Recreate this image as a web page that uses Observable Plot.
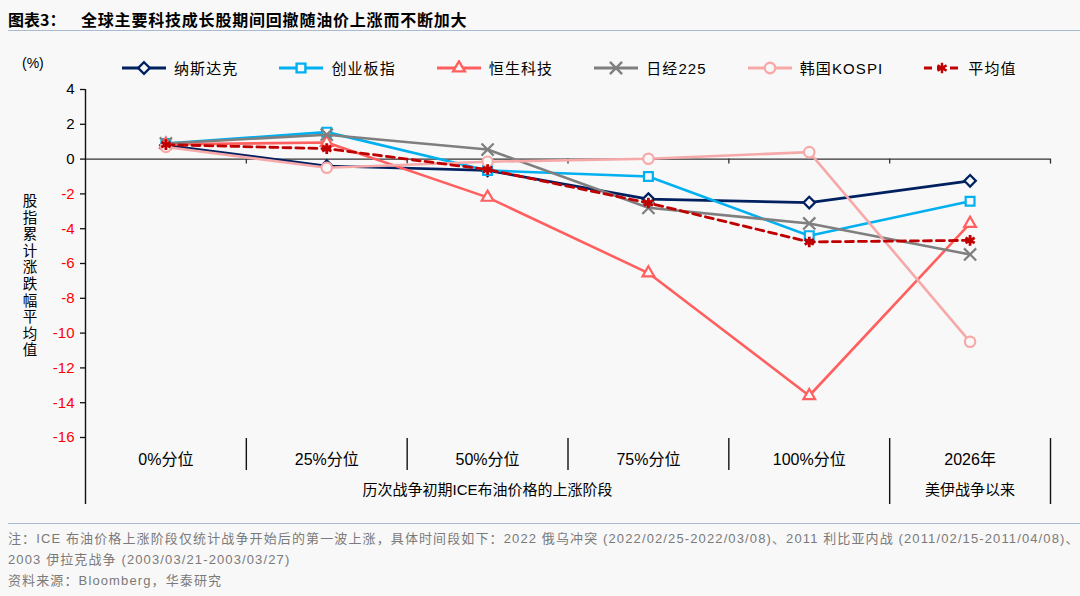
<!DOCTYPE html>
<html><head><meta charset="utf-8">
<script src="https://cdn.jsdelivr.net/npm/d3@7"></script>
<script src="https://cdn.jsdelivr.net/npm/@observablehq/plot@0.6"></script>
<style>
body{margin:0;background:#f8f8f8;}
#wrap{position:relative;width:1080px;height:596px;background:#f8f8f8;font-family:"Liberation Sans","Noto Sans CJK SC",sans-serif;overflow:hidden;color:#000}
#title{position:absolute;left:8px;top:8px;font-family:"Noto Sans CJK SC",sans-serif;font-weight:bold;font-size:16px;line-height:22px;white-space:nowrap}
#title .main{position:absolute;left:73px;letter-spacing:0.8px}
.rule{position:absolute;left:8px;width:1072px;height:0;border-top:1.5px solid #a8bbd2}
#unit{position:absolute;left:22px;top:55px;font-size:14px}
#legend{position:absolute;left:122px;top:57px;display:flex;gap:41px;white-space:nowrap}
#legend .item{display:flex;align-items:center;gap:8px;font-size:15px;letter-spacing:1.1px;font-family:"Liberation Sans","Noto Sans CJK SC",sans-serif}
#ylabel{position:absolute;left:21px;top:192px;width:18px;font-family:"Noto Sans CJK SC",sans-serif;font-size:14.5px;line-height:16.6px;text-align:center;word-break:break-all}
#chart{position:absolute;left:0;top:80px}
#note{position:absolute;left:8px;top:528px;font-size:13px;letter-spacing:1.12px;line-height:21px;color:#7a7a7a;white-space:nowrap}
</style></head>
<body><div id="wrap">
<div id="title"><span class="lead">图表3：</span><span class="main">全球主要科技成长股期间回撤随油价上涨而不断加大</span></div>
<div class="rule" style="top:30px"></div>
<div id="unit">(%)</div>
<div id="legend"></div>
<div id="ylabel">股指累计涨跌幅平均值</div>
<div id="chart"></div>
<div class="rule" style="top:523px"></div>
<div id="note">注：ICE 布油价格上涨阶段仅统计战争开始后的第一波上涨，具体时间段如下：2022 俄乌冲突 (2022/02/25-2022/03/08)、2011 利比亚内战 (2011/02/15-2011/04/08)、<br>2003 伊拉克战争 (2003/03/21-2003/03/27)<br>资料来源：Bloomberg，华泰研究</div>
</div>
<script>
// ---- data ----
const categories = ["0%分位", "25%分位", "50%分位", "75%分位", "100%分位", "2026年"];
const groupLabels = ["历次战争初期ICE布油价格的上涨阶段", "美伊战争以来"];
const groupEnds = [5, 6]; // category index where each group ends
const seriesNames = ["纳斯达克", "创业板指", "恒生科技", "日经225", "韩国KOSPI", "平均值"];
const nasdaq  = [0.8, -0.4, -0.65, -2.3, -2.5, -1.25];
const chinext = [0.9, 1.55, -0.65, -1.0, -4.4, -2.42];
const hstech  = [0.85, 0.95, -2.2, -6.55, -13.6, -3.7];
const nikkei  = [0.9, 1.4, 0.55, -2.8, -3.7, -5.48];
const kospi   = [0.7, -0.5, -0.15, 0.02, 0.4, -10.5];
const average = [0.83, 0.6, -0.6, -2.52, -4.76, -4.67];
const yTicks = [4, 2, 0, -2, -4, -6, -8, -10, -12, -14, -16];

// ---- styles ----
const seriesValues = [nasdaq, chinext, hstech, nikkei, kospi, average];
const seriesColors = ["#002060", "#00B0F0", "#FF5F5F", "#7F7F7F", "#F7A9A9", "#C00000"];
const seriesSymbols = ["diamond2", "square2", "triangle2", "times", "circle", "asterisk"];
const seriesDash = [null, null, null, null, null, "8,5"];
const d3Symbols = {diamond2: d3.symbolDiamond2, square2: d3.symbolSquare2, triangle2: d3.symbolTriangle2, times: d3.symbolTimes, circle: d3.symbolCircle, asterisk: d3.symbolAsterisk};
const symR = [5.2, 5.6, 5.6, 5.6, 5.2, 5.0];
const BG = "#f8f8f8";

const nCat = categories.length;
const xOf = (d, i) => i + 0.5;
const bounds = d3.range(1, nCat + 1);
const groupStarts = [0, ...groupEnds.slice(0, -1)];

const marks = [];
seriesValues.forEach((vals, k) => {
  marks.push(Plot.line(vals, {x: xOf, y: d => d, stroke: seriesColors[k], strokeWidth: k === 5 ? 2.8 : 2.6, strokeDasharray: seriesDash[k], curve: "linear"}));
  marks.push(Plot.dot(vals, {x: xOf, y: d => d, symbol: seriesSymbols[k], r: symR[k], stroke: seriesColors[k], strokeWidth: k === 5 ? 2.8 : 2.2, fill: BG}));
});

const plot = Plot.plot({
  width: 1080, height: 440,
  marginLeft: 85, marginRight: 30, marginTop: 9, marginBottom: 83,
  x: {domain: [0, nCat], axis: null},
  y: {domain: [-16, 4], axis: null},
  color: {type: "identity"},
  style: {background: "transparent", fontFamily: '"Liberation Sans","Noto Sans CJK SC",sans-serif', overflow: "visible"},
  marks: [
    Plot.ruleY([0], {stroke: "#333", strokeWidth: 1.4}),
    Plot.ruleX(bounds, {x: d => d, y1: 0, y2: 0, insetBottom: -5, stroke: "#333", strokeWidth: 1.3}),
    Plot.ruleX([0], {y1: 4, y2: -16, insetBottom: -67, stroke: "#111", strokeWidth: 1.4}),
    Plot.ruleX(bounds.filter(b => !groupEnds.includes(b)), {x: d => d, y1: -16, y2: -16, insetTop: 1, insetBottom: -33, stroke: "#111", strokeWidth: 1.4}),
    Plot.ruleX(bounds.filter(b => groupEnds.includes(b)), {x: d => d, y1: -16, y2: -16, insetTop: 1, insetBottom: -67, stroke: "#111", strokeWidth: 1.4}),
    Plot.ruleY(yTicks, {y: d => d, x1: 0, x2: 0, insetLeft: -5, stroke: "#111", strokeWidth: 1.3}),
    Plot.text(yTicks, {x: 0, y: d => d, text: d => String(d), textAnchor: "end", dx: -11, fontSize: 15, fill: d => d < 0 ? "#FF0000" : "#000"}),
    Plot.text(categories, {x: xOf, y: -16, dy: 22, text: d => d, fontSize: 16, fill: "#000"}),
    Plot.text(groupLabels, {x: (d, i) => (groupStarts[i] + groupEnds[i]) / 2, y: -16, dy: 53, text: d => d, fontSize: 15, fill: "#000", letterSpacing: "1px"}),
    ...marks
  ]
});
document.getElementById("chart").appendChild(plot);

// ---- legend ----
const legend = d3.select("#legend");
seriesNames.forEach((name, k) => {
  const item = legend.append("div").attr("class", "item");
  const w = k === 5 ? 36 : 44;
  const svg = item.append("svg").attr("width", w).attr("height", 16);
  svg.append("line").attr("x1", 0).attr("x2", w).attr("y1", 8).attr("y2", 8)
    .attr("stroke", seriesColors[k]).attr("stroke-width", 2.8)
    .attr("stroke-dasharray", k === 5 ? "8,5" : null);
  svg.append("path").attr("transform", `translate(${w / 2},8)`)
    .attr("d", d3.symbol(d3Symbols[seriesSymbols[k]], Math.PI * symR[k] * symR[k])())
    .attr("fill", BG).attr("stroke", seriesColors[k]).attr("stroke-width", 2.4);
  item.append("span").text(name);
});
</script>
</body></html>
